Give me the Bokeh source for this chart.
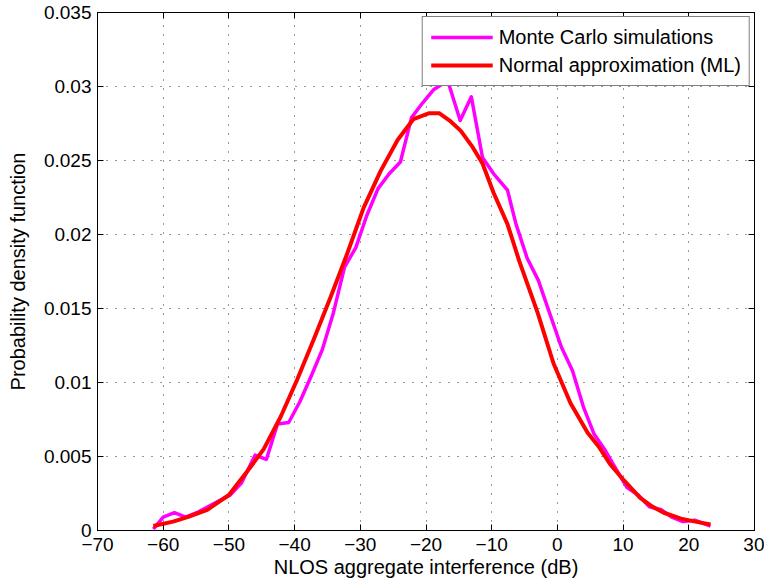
from bokeh.plotting import figure
from bokeh.models import LinearAxis, FixedTicker, Legend, LegendItem, Range1d
from bokeh.embed import file_html
from bokeh.resources import INLINE

# Monte Carlo simulations (magenta)
mc_x = [-61.5, -60.0, -58.3, -56.6, -54.9, -53.2, -51.5, -49.8, -48.1, -46.0, -44.3,
        -42.6, -40.9, -39.2, -37.5, -35.8, -34.1, -32.4, -30.7, -29.0, -27.3, -25.6,
        -23.9, -22.2, -20.5, -18.8, -16.7, -14.8, -13.1, -11.4, -9.7, -7.6, -6.3,
        -4.6, -2.9, -1.2, 0.6, 2.3, 4.0, 5.6, 7.3, 9.0, 10.6, 12.3, 14.0, 15.8,
        17.4, 19.1, 20.9, 23.3]
mc_y = [0.0001, 0.0009, 0.0012, 0.0009, 0.0012, 0.0016, 0.0020, 0.0024, 0.0032, 0.0051, 0.0048,
        0.0072, 0.0073, 0.0087, 0.0104, 0.0122, 0.0147, 0.0178, 0.0191, 0.0213, 0.0231, 0.0241,
        0.0249, 0.0279, 0.0289, 0.0298, 0.0304, 0.0277, 0.0293, 0.0252, 0.0241, 0.0230, 0.0207,
        0.0184, 0.0169, 0.0147, 0.0124, 0.0108, 0.0083, 0.0065, 0.0054, 0.0041, 0.0029, 0.0024, 0.0016, 0.0014,
        0.0009, 0.0006, 0.0007, 0.0003]

# Normal approximation (ML) (red)
ml_x = [-61.5, -58.5, -56.3, -53.3, -50.0, -47.2, -44.7, -42.1, -39.6, -37.0, -34.5,
        -32.0, -29.5, -26.9, -24.3, -21.9, -19.5, -18.0, -16.4, -14.7, -12.9, -11.4,
        -9.7, -7.6, -5.8, -3.0, -0.6, 2.0, 4.6, 6.4, 8.0, 10.1, 12.6, 14.5, 16.2,
        18.8, 21.0, 23.3]
ml_y = [0.0003, 0.0006, 0.0009, 0.0014, 0.0024, 0.0040, 0.0055, 0.0077, 0.0102, 0.0130, 0.0158,
        0.0187, 0.0218, 0.0243, 0.0264, 0.0278, 0.0282, 0.0282, 0.0277, 0.0270, 0.0259, 0.0248,
        0.0228, 0.0207, 0.0182, 0.0147, 0.0113, 0.0086, 0.0066, 0.0056, 0.0045, 0.0034, 0.0022, 0.0016, 0.0012,
        0.0008, 0.0006, 0.0004]

x_ticks = [-70, -60, -50, -40, -30, -20, -10, 0, 10, 20, 30]
x_tick_labels = ["\u221270", "\u221260", "\u221250", "\u221240", "\u221230", "\u221220", "\u221210",
                 "0", "10", "20", "30"]
y_ticks = [0, 0.005, 0.01, 0.015, 0.02, 0.025, 0.03, 0.035]
y_tick_labels = ["0", "0.005", "0.01", "0.015", "0.02", "0.025", "0.03", "0.035"]

series_names = ["Monte Carlo simulations", "Normal approximation (ML)"]
x_label = "NLOS aggregate interference (dB)"
y_label = "Probability density function"

FONT = "Liberation Sans"

p = figure(width=764, height=584, output_backend="svg", toolbar_location=None,
           x_range=Range1d(-70, 30), y_range=Range1d(0, 0.035),
           min_border_left=97, min_border_right=10, min_border_top=12, min_border_bottom=54)
p.background_fill_color = "white"
p.border_fill_color = "white"
p.outline_line_color = "black"
p.outline_line_width = 1

r_mc = p.line(mc_x, mc_y, line_color="#FF00FF", line_width=3.5, line_join="round")
r_ml = p.line(ml_x, ml_y, line_color="#FF0000", line_width=4, line_join="round")

def style_axis(ax, ticks, labels, show_labels=True):
    ax.ticker = FixedTicker(ticks=ticks)
    ax.major_tick_in = 6
    ax.major_tick_out = 0
    ax.minor_tick_line_color = None
    ax.axis_line_color = "black"
    ax.major_tick_line_color = "black"
    ax.major_label_text_font = FONT
    ax.axis_label_text_font = FONT
    ax.axis_label_text_font_style = "normal"
    ax.axis_label_text_color = "black"
    if show_labels:
        ax.major_label_overrides = {t: l for t, l in zip(ticks, labels)}
        ax.major_label_text_color = "black"
        ax.major_label_text_font_size = "19px"
        ax.axis_label_text_font_size = "20px"
    else:
        ax.major_label_text_color = None
        ax.major_label_text_font_size = "1px"
        ax.major_label_standoff = 0

xa = p.xaxis[0]
style_axis(xa, x_ticks, x_tick_labels)
xa.axis_label = x_label
xa.major_label_standoff = 7
xa.axis_label_standoff = 2

ya = p.yaxis[0]
style_axis(ya, y_ticks, y_tick_labels)
ya.axis_label = y_label
ya.major_label_standoff = 6
ya.axis_label_standoff = 12

top = LinearAxis()
style_axis(top, x_ticks, x_tick_labels, show_labels=False)
p.add_layout(top, "above")
right = LinearAxis()
style_axis(right, y_ticks, y_tick_labels, show_labels=False)
p.add_layout(right, "right")

p.xgrid.ticker = FixedTicker(ticks=x_ticks)
p.ygrid.ticker = FixedTicker(ticks=y_ticks)
for g in (p.xgrid[0], p.ygrid[0]):
    g.grid_line_color = "#303030"
    g.grid_line_dash = "1 8"
    g.grid_line_width = 1

legend = Legend(items=[LegendItem(label=series_names[0], renderers=[r_mc]),
                       LegendItem(label=series_names[1], renderers=[r_ml])],
                location="top_right")
legend.margin = 4
legend.padding = 8
legend.spacing = 4
legend.glyph_width = 62
legend.glyph_height = 24
legend.label_height = 24
legend.label_standoff = 6
legend.label_text_font = FONT
legend.label_text_font_size = "20px"
legend.label_text_color = "black"
legend.border_line_color = "black"
legend.border_line_width = 1
legend.background_fill_color = "white"
legend.background_fill_alpha = 1
p.add_layout(legend)

open("out.html", "w").write(file_html(p, INLINE))
